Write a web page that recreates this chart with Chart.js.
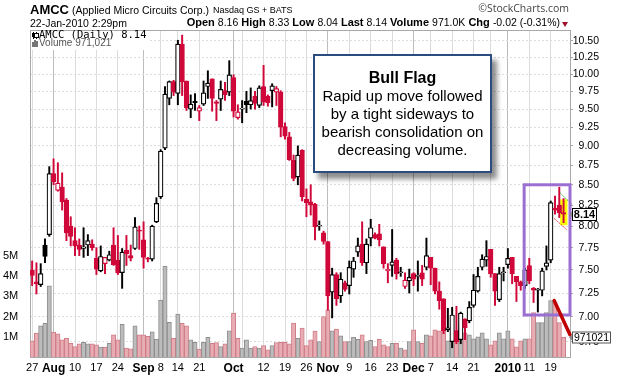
<!DOCTYPE html>
<html>
<head>
<meta charset="utf-8">
<script src="https://cdn.jsdelivr.net/npm/chart.js@4/dist/chart.umd.min.js"></script>
<style>
  html, body { margin:0; padding:0; background:#fff; }
  #wrap { position:relative; width:626px; height:383px; overflow:hidden; font-family:"Liberation Sans", Arial, sans-serif; }
  canvas { position:absolute; left:0; top:0; }
  .t { position:absolute; white-space:nowrap; line-height:1; color:#000; }
  #callout { position:absolute; left:313px; top:54px; width:175px; height:115px; border:2px solid #2b4c7e;
             background:#fff; box-shadow:5px 6px 5px rgba(0,0,0,0.45); text-align:center;
             font-family:"Liberation Sans", Arial, sans-serif; }
  #callout .h { font-weight:bold; font-size:16px; line-height:18px; margin-top:13px; }
  #callout .b { font-size:15px; line-height:18px; }
</style>
</head>
<body>
<div id="wrap">
  <canvas id="c" width="626" height="383" style="width:626px;height:383px"></canvas>

  <div class="t" style="left:30px;top:3px;font-size:13px;font-weight:bold;">AMCC</div>
  <div class="t" style="left:72px;top:5.1px;font-size:10.5px;">(Applied Micro Circuits Corp.)</div>
  <div class="t" style="left:213px;top:6.4px;font-size:9px;">Nasdaq GS + BATS</div>
  <div class="t" style="right:57px;top:3.4px;font-size:10.5px;color:#444;font-family:'Open Sans',sans-serif;">©StockCharts.com</div>
  <div class="t" style="left:30px;top:17.8px;font-size:10.5px;">22-Jan-2010 2:29pm</div>
  <div class="t" style="right:66px;top:17.4px;font-size:11px;line-height:11px;">
    <b>Open</b> <span style="font-size:10.5px">8.16</span>
    <b>High</b> <span style="font-size:10.5px">8.33</span>
    <b>Low</b> <span style="font-size:10.5px">8.04</span>
    <b>Last</b> <span style="font-size:10.5px">8.14</span>
    <b>Volume</b> <span style="font-size:10.5px">971.0K</span>
    <b>Chg</b> <span style="font-size:10.5px">-0.02 (-0.31%)</span>
  </div>
  <div style="position:absolute;left:562px;top:22px;width:0;height:0;border-left:3.5px solid transparent;border-right:3.5px solid transparent;border-top:5px solid #a0102a;"></div>

  <!-- legend -->
  <div style="position:absolute;left:31px;top:31px;width:118px;height:19px;background:#fff;"></div>
  <div style="position:absolute;left:33px;top:32px;width:1px;height:7px;background:#000;"></div>
  <div style="position:absolute;left:32px;top:33px;width:3px;height:4px;border:0;background:#000;"></div>
  <div style="position:absolute;left:36px;top:32px;width:1px;height:7px;background:#000;"></div>
  <div style="position:absolute;left:35px;top:33.5px;width:3px;height:3px;background:#fff;border:0;outline:1px solid #000;"></div>
  <div style="position:absolute;left:32px;top:42px;width:1.5px;height:5px;background:#777;"></div>
  <div style="position:absolute;left:34px;top:40px;width:1.5px;height:7px;background:#777;"></div>
  <div style="position:absolute;left:36px;top:41px;width:1.5px;height:6px;background:#777;"></div>
  <div class="t" style="left:39px;top:29.4px;font-size:10.5px;font-family:'DejaVu Sans Mono',monospace;">AMCC (Daily) 8.14</div>
  <div class="t" style="left:39px;top:38.2px;font-size:10px;color:#555;">Volume 971,021</div>

  <div id="callout">
    <div class="h">Bull Flag</div>
    <div class="b">Rapid up move followed</div>
    <div class="b">by a tight sideways to</div>
    <div class="b">bearish consolidation on</div>
    <div class="b">decreasing volume.</div>
  </div>
</div>

<script>
// ---------------- DATA ----------------
const tradingDays = [
  ['2009-07', [27,28,29,30,31]],
  ['2009-08', [3,4,5,6,7,10,11,12,13,14,17,18,19,20,21,24,25,26,27,28,31]],
  ['2009-09', [1,2,3,4,8,9,10,11,14,15,16,17,18,21,22,23,24,25,28,29,30]],
  ['2009-10', [1,2,5,6,7,8,9,12,13,14,15,16,19,20,21,22,23,26,27,28,29,30]],
  ['2009-11', [2,3,4,5,6,9,10,11,12,13,16,17,18,19,20,23,24,25,27,30]],
  ['2009-12', [1,2,3,4,7,8,9,10,11,14,15,16,17,18,21,22,23,24,28,29,30,31]],
  ['2010-01', [4,5,6,7,8,11,12,13,14,15,19,20,21,22]]
];

const opens = [
  7.50,7.37,7.34,7.78,7.90,8.64,8.43,8.47,8.31,8.00,
  7.83,7.78,7.74,7.78,7.79,7.63,7.49,7.57,7.61,7.78,
  7.61,7.47,7.72,7.66,7.74,7.95,7.84,7.63,7.62,8.05,
  8.35,8.97,9.65,9.89,9.72,10.45,9.90,9.50,9.61,9.47,
  9.57,9.82,9.93,9.60,9.64,9.76,9.74,9.95,9.38,9.50,
  9.61,9.56,9.68,9.55,9.82,9.68,9.76,9.74,9.74,9.26,
  9.12,8.81,8.60,8.94,8.32,8.29,8.26,8.00,7.92,7.82,
  7.26,7.45,7.22,7.36,7.33,7.51,7.70,7.79,7.58,7.86,
  7.90,7.91,7.76,7.49,7.55,7.61,7.47,7.32,7.38,7.46,
  7.43,7.47,7.53,7.64,7.52,7.27,7.19,6.87,6.75,6.86,
  6.77,6.98,6.96,7.12,7.27,7.53,7.61,7.73,7.46,7.18,
  7.47,7.56,7.64,7.43,7.37,7.33,7.55,7.30,7.28,7.28,
  7.54,7.61,8.21,8.25,8.16
];
const highs = [
  7.60,7.58,7.57,7.85,8.73,8.83,8.78,8.65,8.33,8.11,
  7.98,7.85,7.98,7.90,7.84,7.75,7.77,7.64,7.71,7.98,
  7.89,7.74,7.89,7.78,8.10,8.00,8.05,7.64,8.01,8.34,
  8.95,9.82,9.90,9.91,10.51,10.59,9.90,9.70,9.72,9.55,
  9.90,10.05,9.93,9.62,9.90,9.88,10.20,9.99,9.56,9.62,
  9.75,9.80,9.75,9.83,10.13,9.70,9.86,9.82,9.76,9.31,
  9.18,8.88,9.00,8.95,8.45,8.50,8.27,8.06,7.94,7.82,
  7.52,7.47,7.47,7.38,7.60,7.64,7.86,8.05,7.85,8.08,
  7.92,8.02,7.76,7.57,7.96,7.63,7.53,7.47,7.51,7.47,
  7.60,7.55,7.86,7.64,7.52,7.37,7.19,7.09,7.10,7.11,
  7.05,6.98,7.16,7.45,7.53,7.67,7.83,7.73,7.46,7.53,
  7.53,7.74,7.64,7.43,7.38,7.52,7.63,7.31,7.30,7.52,
  7.77,8.30,8.36,8.47,8.33
];
const lows = [
  7.33,7.24,7.32,7.58,7.88,8.50,8.42,8.19,7.83,7.77,
  7.66,7.66,7.64,7.66,7.72,7.45,7.48,7.46,7.60,7.55,
  7.45,7.30,7.55,7.60,7.73,7.73,7.52,7.59,7.60,8.04,
  8.33,8.95,9.56,9.69,9.56,9.69,9.48,9.38,9.48,9.34,
  9.55,9.65,9.47,9.34,9.48,9.62,9.69,9.39,9.36,9.31,
  9.45,9.50,9.50,9.52,9.55,9.54,9.53,9.55,9.12,9.09,
  8.81,8.55,8.50,8.30,8.11,8.13,7.84,7.95,7.79,7.07,
  6.99,7.12,7.15,7.27,7.24,7.42,7.65,7.55,7.46,7.77,
  7.85,7.77,7.52,7.36,7.43,7.40,7.43,7.30,7.25,7.33,
  7.27,7.33,7.50,7.34,7.24,7.08,6.83,6.85,6.69,6.73,
  6.73,6.77,6.94,7.10,7.26,7.50,7.54,7.42,7.12,7.16,
  7.38,7.52,7.35,7.16,7.28,7.30,7.35,7.15,7.05,7.22,
  7.50,7.58,8.14,8.10,8.04
];
const closes = [
  7.44,7.35,7.46,7.65,8.64,8.54,8.52,8.29,7.92,7.88,
  7.77,7.73,7.76,7.83,7.75,7.51,7.65,7.64,7.67,7.56,
  7.47,7.70,7.68,7.63,7.99,7.94,7.64,7.62,8.00,8.27,
  8.93,9.71,9.89,9.74,10.45,9.89,9.52,9.57,9.59,9.52,
  9.73,9.87,9.65,9.58,9.78,9.70,9.99,9.47,9.46,9.51,
  9.56,9.62,9.58,9.80,9.60,9.59,9.83,9.79,9.25,9.13,
  8.82,8.58,8.88,8.35,8.28,8.25,7.99,8.01,7.82,7.22,
  7.45,7.19,7.40,7.29,7.53,7.60,7.77,7.58,7.79,7.98,
  7.86,7.84,7.57,7.51,7.59,7.46,7.48,7.39,7.42,7.40,
  7.44,7.40,7.66,7.52,7.27,7.17,6.86,6.89,7.02,6.75,
  7.04,6.89,7.10,7.28,7.43,7.62,7.65,7.46,7.27,7.46,
  7.48,7.63,7.46,7.37,7.33,7.50,7.38,7.28,7.29,7.49,
  7.58,8.28,8.19,8.16,8.14
];
// volume in millions of shares
const volumes = [
  0.80,1.18,1.54,1.67,3.52,1.23,1.15,0.85,0.93,0.68,
  0.52,0.65,0.73,0.65,0.65,0.60,0.49,0.49,0.68,1.10,
  0.85,1.62,0.44,0.41,1.54,1.10,1.10,1.02,1.25,0.88,
  2.82,4.51,1.72,0.93,2.13,1.67,1.54,0.85,0.73,0.39,
  0.73,0.98,0.68,0.71,0.52,0.65,1.30,2.17,0.93,0.44,
  0.85,0.44,0.52,0.44,0.56,0.36,0.56,0.72,0.73,0.73,
  0.65,1.68,0.93,1.43,0.56,0.85,1.28,0.77,2.00,2.34,
  1.30,1.38,1.05,0.77,0.77,0.98,0.88,1.10,0.77,0.82,
  0.52,0.88,0.60,0.52,0.68,0.68,0.44,0.36,0.77,1.35,
  0.77,0.68,1.10,1.05,1.35,1.30,1.50,0.80,1.10,1.30,
  1.60,1.20,1.10,0.90,1.00,1.20,0.90,0.60,0.80,1.20,
  0.90,1.30,0.90,0.50,0.80,0.90,0.90,2.20,1.70,1.70,
  2.20,2.80,2.70,1.70,0.971
];
const lastVolume = 971021;

const priceTicks = [6.75,7.00,7.25,7.50,7.75,8.00,8.25,8.50,8.75,9.00,9.25,9.50,9.75,10.00,10.25,10.50];
const volumeTicks = [1,2,3,4,5];
const tickLabels = {
  '2009-07-27':'27','2009-08-03':'Aug','2009-08-10':'10','2009-08-17':'17','2009-08-24':'24',
  '2009-09-01':'Sep','2009-09-08':'8','2009-09-14':'14','2009-09-21':'21',
  '2009-10-01':'Oct','2009-10-12':'12','2009-10-19':'19','2009-10-26':'26',
  '2009-11-02':'Nov','2009-11-09':'9','2009-11-16':'16','2009-11-23':'23',
  '2009-12-01':'Dec','2009-12-07':'7','2009-12-14':'14','2009-12-21':'21',
  '2010-01-04':'2010','2010-01-11':'11','2010-01-19':'19'
};
const boldLabels = ['Aug','Sep','Oct','Nov','Dec','2010'];
const extraGridDates = ['2009-10-05','2009-12-28'];
const monthStartDates = ['2009-08-03','2009-09-01','2009-10-01','2009-11-02','2009-12-01','2010-01-04'];

// annotations (index units on x, price / million shares on y)
const flagBox   = {from:114.8, to:125.5, low:7.02, high:8.50};
const flagHighlight = {from:123.2, to:124.9, low:8.01, high:8.32};
const flagUpper = [[123.2, 8.40],[126.1, 8.25]];
const flagLower = [[121.8, 8.09],[124.7, 7.96]];
const volumeTrend = [[121.8, 2.8],[125.5, 1.1]];

// ---------------- BUILD ----------------
const categories = [];
tradingDays.forEach(([m, days]) => days.forEach(d => categories.push(m + '-' + String(d).padStart(2,'0'))));
const labels = categories.concat(['']);   // one empty slot of right margin

const RED = '#d0083a', BLACK = '#000000';
const candleColor = closes.map((c,i) => (i === 0 ? c >= opens[0] : c >= closes[i-1]) ? BLACK : RED);
const candleFill  = closes.map((c,i) => c > opens[i] ? '#ffffff' : candleColor[i]);
const volFill   = candleColor.map(c => c === BLACK ? '#bcbcbc' : '#e8adb3');
const volBorder = candleColor.map(c => c === BLACK ? '#8e8e8e' : '#cf7c87');

const gridSet = new Set(Object.keys(tickLabels).concat(extraGridDates));
const monthSet = new Set(monthStartDates);

const FONT = '"Liberation Sans", Arial, sans-serif';

const overlay = {
  id: 'overlay',
  beforeDatasetsDraw(chart) {
    const {ctx, scales:{x, y}} = chart;
    ctx.save();
    ctx.fillStyle = '#ffff00';
    const x0 = x.getPixelForValue(flagHighlight.from), x1 = x.getPixelForValue(flagHighlight.to);
    const y0 = y.getPixelForValue(flagHighlight.high), y1 = y.getPixelForValue(flagHighlight.low);
    ctx.fillRect(x0, y0, x1 - x0, y1 - y0);
    ctx.restore();
  },
  afterDraw(chart) {
    const {ctx, chartArea:a, scales:{x, y, yv}} = chart;
    ctx.save();
    // top border
    ctx.strokeStyle = '#a8a8a8'; ctx.lineWidth = 1;
    ctx.beginPath(); ctx.moveTo(a.left, a.top + 0.5); ctx.lineTo(a.right, a.top + 0.5); ctx.stroke();

    const line = (pts, scale, color, w, dash) => {
      ctx.strokeStyle = color; ctx.lineWidth = w; ctx.setLineDash(dash || []);
      ctx.beginPath();
      ctx.moveTo(x.getPixelForValue(pts[0][0]), scale.getPixelForValue(pts[0][1]));
      ctx.lineTo(x.getPixelForValue(pts[1][0]), scale.getPixelForValue(pts[1][1]));
      ctx.stroke(); ctx.setLineDash([]);
    };
    line(flagUpper, y, '#3fae3f', 1, [2,1]);
    line(flagLower, y, '#e0404a', 1, [2,1]);

    // purple box
    ctx.strokeStyle = '#9b6fd2'; ctx.lineWidth = 3;
    const bx0 = x.getPixelForValue(flagBox.from), bx1 = x.getPixelForValue(flagBox.to);
    const by0 = y.getPixelForValue(flagBox.high), by1 = y.getPixelForValue(flagBox.low);
    ctx.strokeRect(bx0, by0, bx1 - bx0, by1 - by0);

    // volume trend
    ctx.lineCap = 'round';
    line(volumeTrend, yv, '#c00000', 3.5);
    ctx.lineCap = 'butt';

    // price tag
    const last = closes[closes.length - 1];
    const py = Math.round(y.getPixelForValue(last)) + 0.5;
    const r = a.right;
    ctx.lineWidth = 1;
    ctx.beginPath(); ctx.moveTo(r - 1, py); ctx.lineTo(r + 3, py - 4); ctx.lineTo(r + 3, py + 4); ctx.closePath();
    ctx.fillStyle = '#888'; ctx.fill();
    ctx.fillStyle = '#fff'; ctx.strokeStyle = '#000';
    ctx.fillRect(r + 2.5, py - 6, 24, 12); ctx.strokeRect(r + 2.5, py - 6, 24, 12);
    ctx.fillStyle = '#000'; ctx.font = 'bold 11px ' + FONT; ctx.textAlign = 'center'; ctx.textBaseline = 'middle';
    ctx.fillText(last.toFixed(2), r + 14.5, py + 0.5);

    // volume tag
    const vy = Math.round(yv.getPixelForValue(lastVolume / 1e6)) + 0.5;
    ctx.beginPath(); ctx.moveTo(r - 1, vy); ctx.lineTo(r + 3, vy - 4); ctx.lineTo(r + 3, vy + 4); ctx.closePath();
    ctx.fillStyle = '#888'; ctx.fill();
    ctx.fillStyle = '#fff'; ctx.strokeStyle = '#555';
    ctx.fillRect(r + 2.5, vy - 5.5, 38, 11); ctx.strokeRect(r + 2.5, vy - 5.5, 38, 11);
    ctx.fillStyle = '#000'; ctx.font = '10.5px ' + FONT;
    ctx.fillText(String(lastVolume), r + 21.5, vy + 0.5);
    ctx.restore();
  }
};

new Chart(document.getElementById('c'), {
  data: {
    labels: labels,
    datasets: [
      { type:'bar', label:'Volume', data: volumes, yAxisID:'yv', backgroundColor: volFill, borderColor: volBorder,
        borderWidth: 1, borderSkipped: 'bottom', barPercentage: 1, categoryPercentage: 1, grouped: false, order: 3 },
      { type:'bar', label:'Range', data: lows.map((l,i) => [l, highs[i]]), yAxisID:'y', backgroundColor: candleColor,
        barThickness: 1.3, grouped: false, order: 2 },
      { type:'bar', label:'Body', data: opens.map((o,i) => [o, closes[i]]), yAxisID:'y', backgroundColor: candleFill,
        borderColor: candleColor, borderWidth: 1.2, borderSkipped: false, barThickness: 4.6, grouped: false, order: 1 }
    ]
  },
  options: {
    responsive: false, animation: false, devicePixelRatio: 1,
    layout: { padding: { left: 3, top: 30, right: 27, bottom: 0 } },
    plugins: { legend: { display: false }, tooltip: { enabled: false } },
    scales: {
      x: {
        type: 'category', offset: true,
        grid: { offset: false, drawTicks: false,
                color: c => { const d = labels[c.index]; return gridSet.has(d) ? (monthSet.has(d) ? '#bdbdbd' : '#dcdcdc') : 'rgba(0,0,0,0)'; } },
        border: { display: true, color: '#a8a8a8' },
        ticks: { autoSkip: false, maxRotation: 0, minRotation: 0, padding: 4, color: '#000',
                 font: c => { const t = tickLabels[labels[c.index]]; return boldLabels.includes(t) ? {family: FONT, size: 12, weight: 'bold'} : {family: FONT, size: 11}; },
                 callback: (v, i) => tickLabels[labels[i]] || '' },
        afterFit: s => { s.height = 26; }
      },
      y: {
        type: 'logarithmic', position: 'right', bounds: 'data', min: 6.6, max: 10.67,
        afterBuildTicks: s => { s.ticks = priceTicks.map(v => ({ value: v })); },
        grid: { color: '#dcdcdc', drawTicks: true, tickLength: 3, tickColor: '#a8a8a8' },
        border: { display: true, color: '#a8a8a8', dash: [2, 2] },
        ticks: { crossAlign: 'far', padding: 2, color: '#000', font: { family: FONT, size: 10.5 },
                 callback: v => Number(v).toFixed(2) },
        afterFit: s => { s.width = 29; }
      },
      yv: {
        type: 'linear', position: 'left', bounds: 'data', min: 0, max: 16.2,
        afterBuildTicks: s => { s.ticks = volumeTicks.map(v => ({ value: v })); },
        grid: { display: false, drawTicks: false },
        border: { display: true, color: '#a8a8a8' },
        ticks: { crossAlign: 'far', padding: 2, color: '#000', font: { family: FONT, size: 11 },
                 callback: v => v + 'M' },
        afterFit: s => { s.width = 27; }
      }
    }
  },
  plugins: [overlay]
});
</script>
</body>
</html>
